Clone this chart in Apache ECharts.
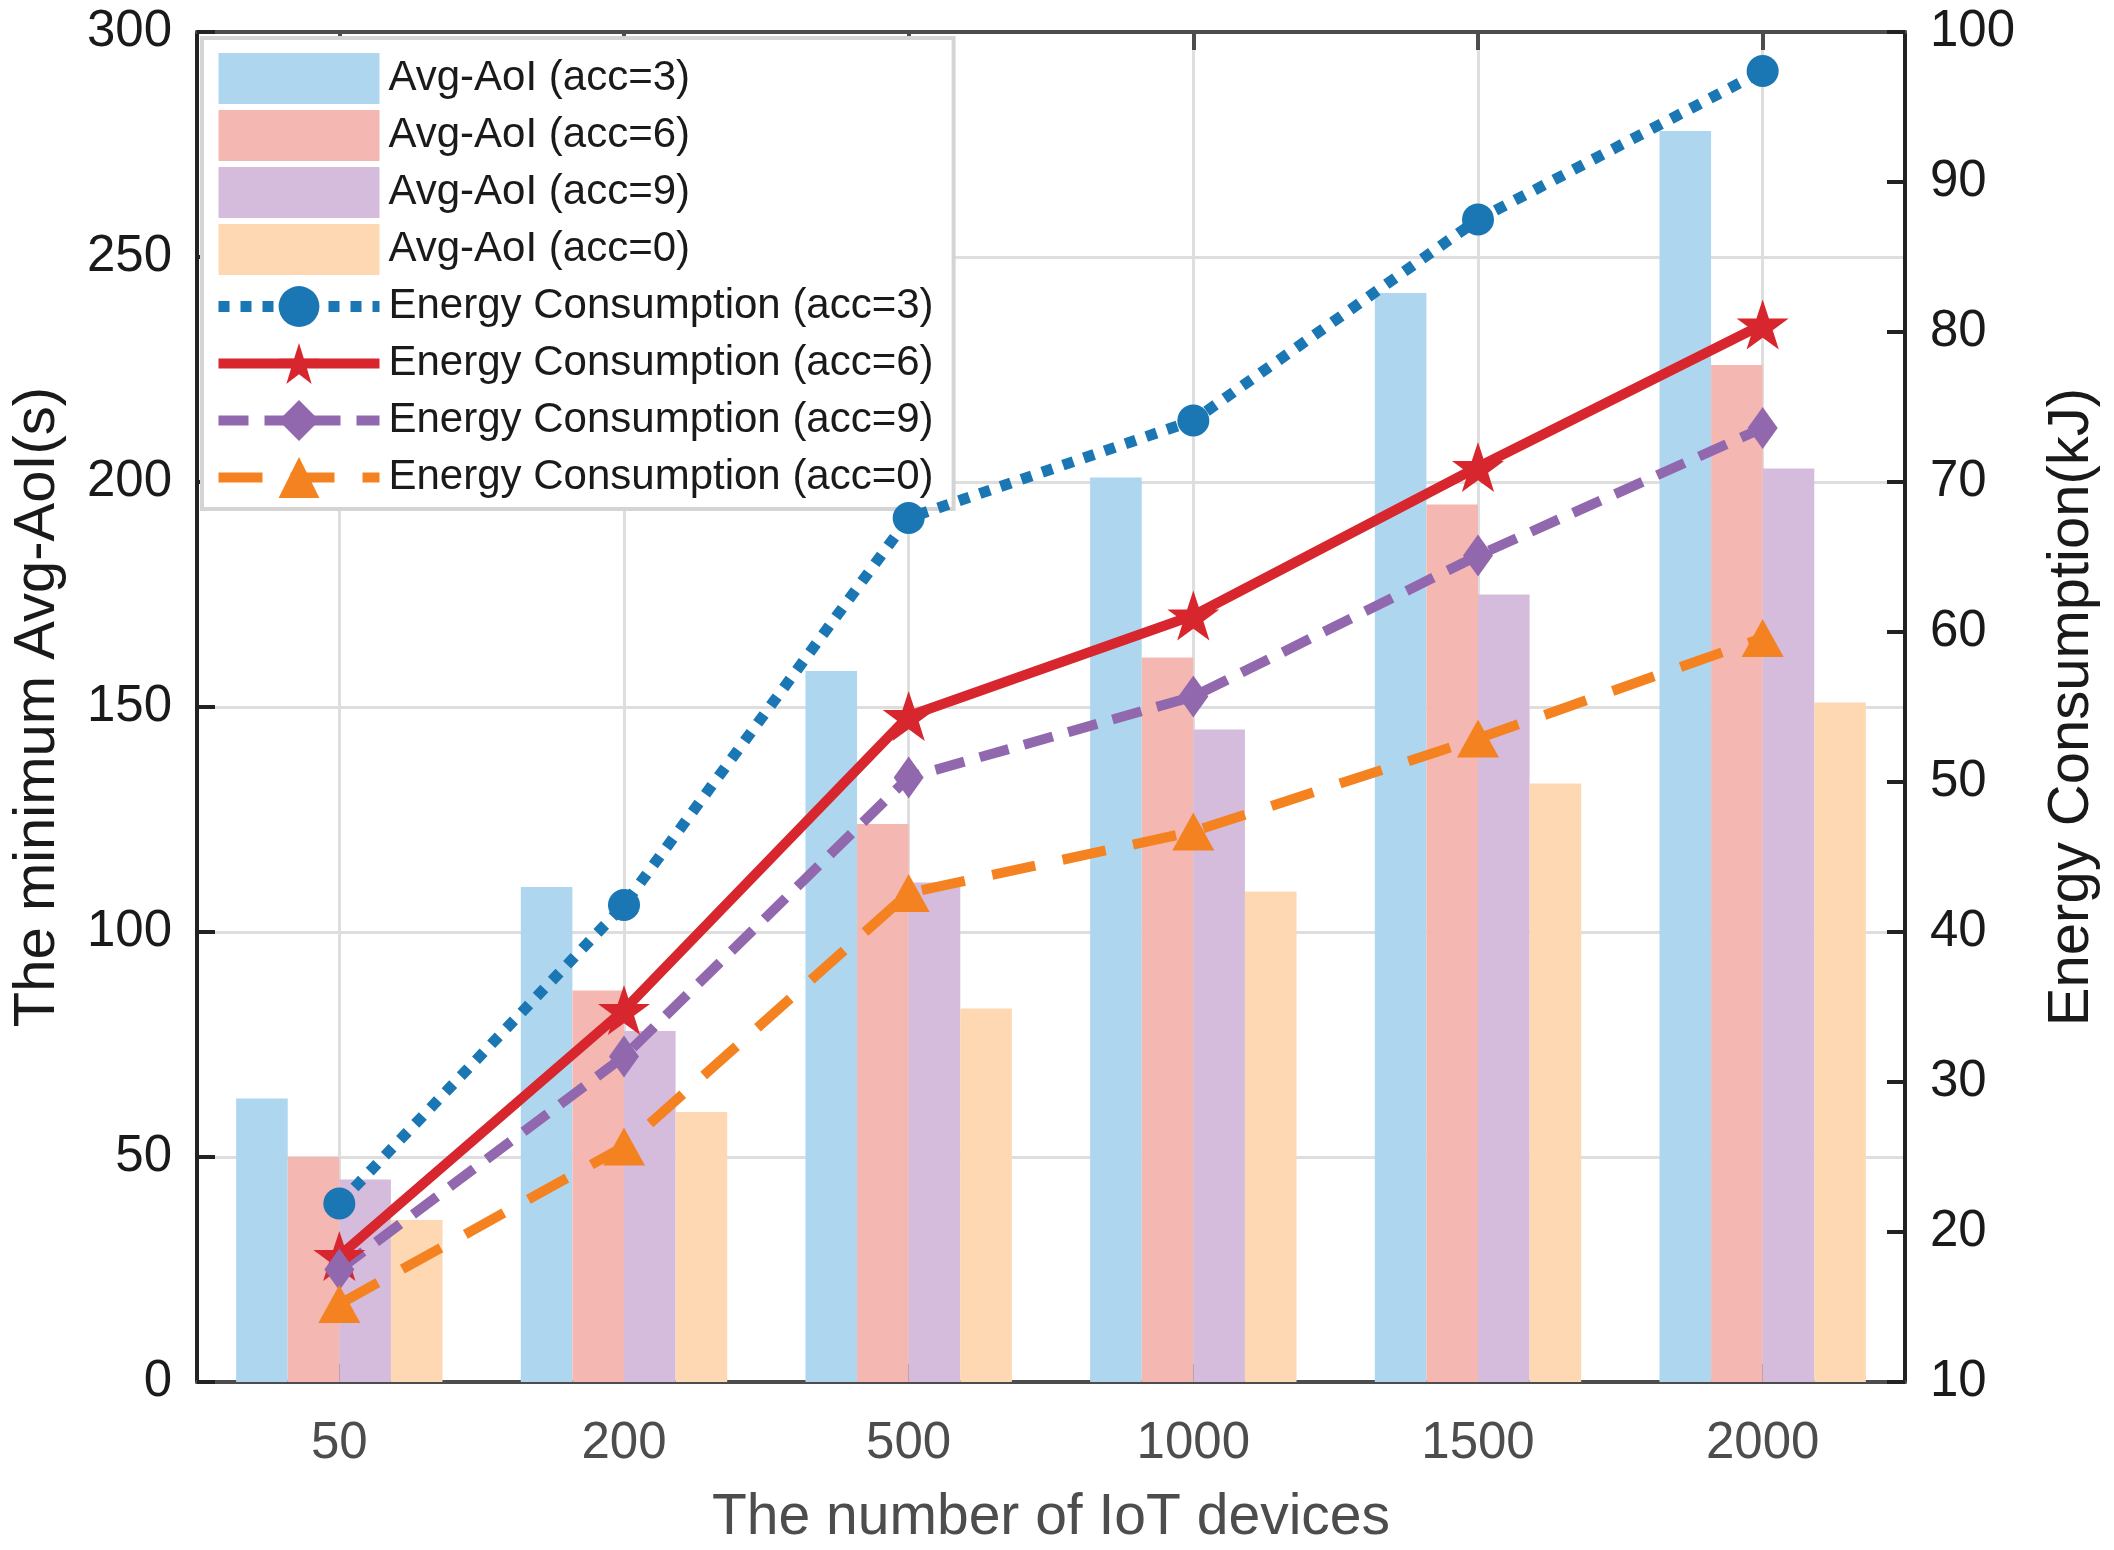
<!DOCTYPE html>
<html><head><meta charset="utf-8">
<script src="https://cdn.jsdelivr.net/npm/echarts@6/dist/echarts.min.js"></script>
<style>html,body{margin:0;padding:0;background:#fff}#c{width:2114px;height:1550px}</style>
</head><body><div id="c"></div>
<script>
const categories = ['50', '200', '500', '1000', '1500', '2000'];
const aoiAcc3 = [63, 110, 158, 201, 242, 278];
const aoiAcc6 = [50, 87, 124, 161, 195, 226];
const aoiAcc9 = [45, 78, 111, 145, 175, 203];
const aoiAcc0 = [36, 60, 83, 109, 133, 151];
const energyAcc3 = [21.9, 41.8, 67.6, 74.1, 87.5, 97.4];
const energyAcc6 = [18.4, 34.8, 54.4, 61.1, 71.0, 80.5];
const energyAcc9 = [17.5, 31.7, 50.3, 55.7, 65.1, 73.6];
const energyAcc0 = [15.2, 25.7, 42.6, 46.7, 52.9, 59.6];

const FONT = '"Liberation Sans", Arial, Helvetica, sans-serif';
const STAR = 'path://M50,0 L61.8,35.3 L99,35.3 L69,57.1 L80.4,92.7 L50,70.9 L19.6,92.7 L31,57.1 L1,35.3 L38.2,35.3 Z';
const DOT = [11, 11], DASH9 = [30, 16], DASH0 = [44, 28];

function bar(name, data, color) {
  return { name, type: 'bar', data, xAxisIndex: 0, yAxisIndex: 0, barWidth: 51.6, barGap: '0%',
    itemStyle: { color }, emphasis: { disabled: true } };
}
function line(name, data, color, dash, symbol, size, width) {
  return { name, type: 'line', data, xAxisIndex: 0, yAxisIndex: 1, symbol, symbolSize: size, showSymbol: true,
    lineStyle: { color, width, type: dash, cap: 'butt' }, itemStyle: { color }, emphasis: { disabled: true }, z: 5 };
}

const chart = echarts.init(document.getElementById('c'), null, { renderer: 'canvas' });
chart.setOption({
  animation: false,
  backgroundColor: '#ffffff',
  textStyle: { fontFamily: FONT },
  grid: { left: 197, right: 209, top: 32, bottom: 168, containLabel: false, outerBoundsMode: 'none' },
  legend: {
    orient: 'vertical', left: 202, top: 38,
    padding: [15, 20, 6, 11],
    itemWidth: 161, itemHeight: 51, itemGap: 6,
    backgroundColor: '#ffffff', borderColor: '#d4d4d4', borderWidth: 4,
    textStyle: { fontSize: 42, lineHeight: 51, color: '#1a1a1a', fontFamily: FONT, padding: [0, 0, 0, 4] },
    selectedMode: false,
    data: [
      { name: 'Avg-AoI (acc=3)', icon: 'rect' },
      { name: 'Avg-AoI (acc=6)', icon: 'rect' },
      { name: 'Avg-AoI (acc=9)', icon: 'rect' },
      { name: 'Avg-AoI (acc=0)', icon: 'rect' },
      { name: 'Energy Consumption (acc=3)', lineStyle: { width: 11, type: DOT, color: '#1B76B4' } },
      { name: 'Energy Consumption (acc=6)', lineStyle: { width: 10, type: 'solid', color: '#D7262D' } },
      { name: 'Energy Consumption (acc=9)', lineStyle: { width: 10, type: DASH9, color: '#9167AE' } },
      { name: 'Energy Consumption (acc=0)', lineStyle: { width: 10, type: DASH0, color: '#F58220' } }
    ]
  },
  xAxis: [
    {
      type: 'category', data: categories, position: 'bottom',
      name: 'The number of IoT devices', nameLocation: 'middle', nameGap: 108,
      nameTextStyle: { fontSize: 57, color: '#4d4d4d', fontFamily: FONT },
      axisLine: { show: true, lineStyle: { color: '#4d4d4d', width: 4 } },
      axisTick: { show: true, inside: true, alignWithLabel: true, length: 18, lineStyle: { color: '#4d4d4d', width: 4 } },
      axisLabel: { fontSize: 51, color: '#4d4d4d', margin: 36, fontFamily: FONT },
      splitLine: { show: true, alignWithLabel: true, lineStyle: { color: '#dedede', width: 3 } }
    },
    {
      type: 'category', data: categories, position: 'top',
      axisLine: { show: true, lineStyle: { color: '#4d4d4d', width: 4 } },
      axisTick: { show: true, inside: true, alignWithLabel: true, length: 18, lineStyle: { color: '#4d4d4d', width: 4 } },
      axisLabel: { show: false }, splitLine: { show: false }
    }
  ],
  yAxis: [
    {
      type: 'value', position: 'left', min: 0, max: 300, interval: 50,
      name: 'The minimum Avg-AoI(s)', nameLocation: 'middle', nameGap: 130, nameRotate: 90,
      nameTextStyle: { fontSize: 58, color: '#1a1a1a', fontFamily: FONT },
      axisLine: { show: true, lineStyle: { color: '#222222', width: 4 } },
      axisTick: { show: true, inside: true, length: 18, lineStyle: { color: '#222222', width: 4 } },
      axisLabel: { fontSize: 51, color: '#1a1a1a', margin: 25, fontFamily: FONT },
      splitLine: { show: true, lineStyle: { color: '#dedede', width: 3 } }
    },
    {
      type: 'value', position: 'right', min: 10, max: 100, interval: 10,
      name: 'Energy Consumption(kJ)', nameLocation: 'middle', nameGap: 138, nameRotate: 90,
      nameTextStyle: { fontSize: 58, color: '#1a1a1a', fontFamily: FONT },
      axisLine: { show: true, lineStyle: { color: '#222222', width: 4 } },
      axisTick: { show: true, inside: true, length: 18, lineStyle: { color: '#222222', width: 4 } },
      axisLabel: { fontSize: 51, color: '#1a1a1a', margin: 25, fontFamily: FONT },
      splitLine: { show: false }
    }
  ],
  series: [
    bar('Avg-AoI (acc=3)', aoiAcc3, '#AFD6EF'),
    bar('Avg-AoI (acc=6)', aoiAcc6, '#F5B7B1'),
    bar('Avg-AoI (acc=9)', aoiAcc9, '#D5BCDC'),
    bar('Avg-AoI (acc=0)', aoiAcc0, '#FED8B2'),
    line('Energy Consumption (acc=3)', energyAcc3, '#1B76B4', DOT, 'circle', 32, 11),
    line('Energy Consumption (acc=6)', energyAcc6, '#D7262D', 'solid', STAR, [52, 50], 10),
    line('Energy Consumption (acc=9)', energyAcc9, '#9167AE', DASH9, 'diamond', [30, 42], 10),
    line('Energy Consumption (acc=0)', energyAcc0, '#F58220', DASH0, 'triangle', [42, 38], 10)
  ]
});
</script></body></html>
